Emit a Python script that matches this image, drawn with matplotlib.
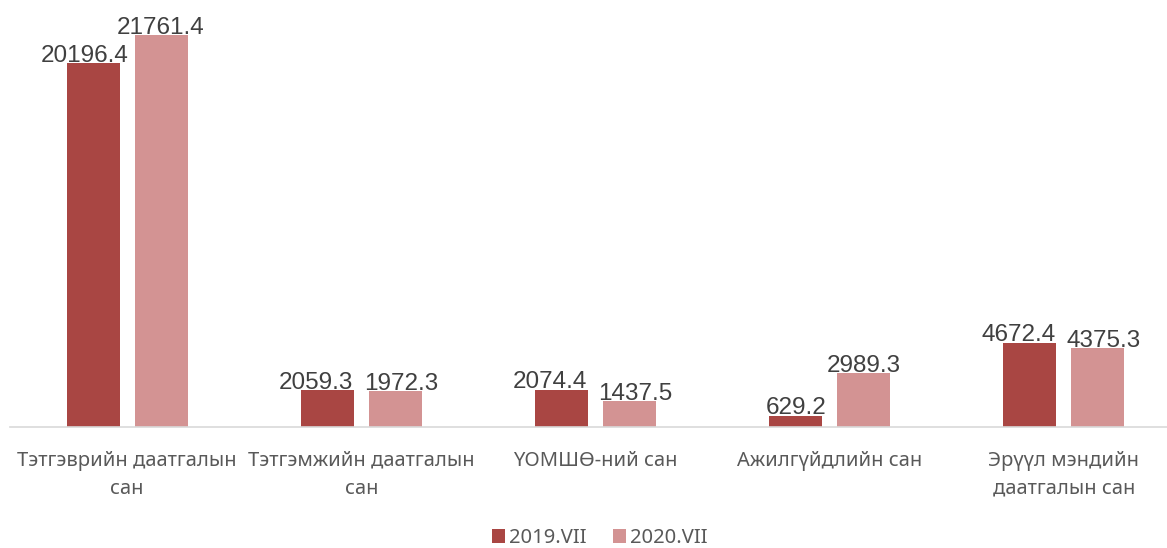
import matplotlib.pyplot as plt
import numpy as np

categories = ["Тэтгэврийн даатгалын\nсан", "Тэтгэмжийн даатгалын\nсан", "ҮОМШӨ-ний сан",
              "Ажилгүйдлийн сан", "Эрүүл мэндийн\nдаатгалын сан"]
series_names = ["2019.VII", "2020.VII"]
values_2019 = [20196.4, 2059.3, 2074.4, 629.2, 4672.4]
values_2020 = [21761.4, 1972.3, 1437.5, 2989.3, 4375.3]
colors = ["#A94643", "#D39393"]

plt.rcParams['font.family'] = ['Noto Sans', 'DejaVu Sans']

fig = plt.figure(figsize=(11.67, 5.48), dpi=100)
# axes run a bit past the right edge, like the original export
ax = fig.add_axes([10 / 1167, 1 - 427 / 548, 1171 / 1167, 419 / 548])

x = np.arange(len(categories))
w = 0.226
gap = 0.064
labels = []
for i, (vals, name) in enumerate(zip([values_2019, values_2020], series_names)):
    pos = x + (i - 0.5) * (w + gap)
    bars = ax.bar(pos, vals, width=w, color=colors[i], label=name)
    row = []
    for b, v in zip(bars, vals):
        t = ax.annotate(f"{v:.1f}", (b.get_x() + b.get_width() / 2, v), xytext=(0, 1),
                        textcoords="offset points", ha="center", va="baseline",
                        fontsize=17.5, color="#404040", family=['Liberation Sans', 'DejaVu Sans'])
        row.append(t)
    labels.append(row)

ax.set_xlim(-0.5, len(categories) - 0.5)
ax.set_ylim(0, 23265)
ax.set_yticks([])
for s in ["top", "right", "left"]:
    ax.spines[s].set_visible(False)
ax.spines["bottom"].set_color("#D9D9D9")
ax.spines["bottom"].set_linewidth(1.2)
ax.set_xticks(x)
ax.set_xticklabels(categories, fontsize=14.5, color="#595959", linespacing=1.55)
ax.tick_params(axis="x", length=0, pad=17)

# push apart the two value labels of a group when they collide (like Excel does)
fig.canvas.draw()
r = fig.canvas.get_renderer()
px2pt = 72 / fig.dpi
for left, right in zip(labels[0], labels[1]):
    a = left.get_window_extent(r)
    b = right.get_window_extent(r)
    if a.y0 < b.y1 and b.y0 < a.y1:
        overlap = a.x1 + 11 - b.x0
        if overlap > 0:
            left.xyann = (-0.65 * overlap * px2pt, 1)
            right.xyann = (0.35 * overlap * px2pt, 1)
    elif b.y0 > a.y1:
        # right label sits above: only nudge the lower left one
        overlap = a.x1 - (b.x0 + 11)
        if overlap > 0:
            left.xyann = (-overlap * px2pt, 1)

fig.legend(loc="upper center", bbox_to_anchor=(600 / 1167, 1 - 518 / 548), ncol=2, frameon=False,
           fontsize=14.5, handlelength=0.65, handleheight=0.65, handletextpad=0.2,
           columnspacing=1.3, labelcolor="#595959", borderpad=0)

fig.savefig("out.png", dpi=100)
